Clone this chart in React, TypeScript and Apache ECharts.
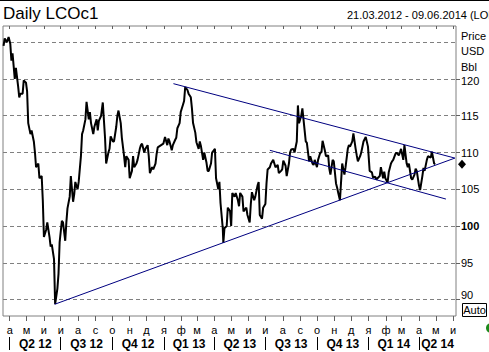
import React, { useEffect, useRef } from 'react';
import * as echarts from 'echarts';

const FONT = 'Arial, "Liberation Sans", Helvetica, sans-serif';

const AXIS_START = '2012-03-20';
const AXIS_END = '2014-06-06';

const MONTH_TICKS = [
  '2012-04-01', '2012-05-01', '2012-06-01', '2012-07-01', '2012-08-01', '2012-09-01',
  '2012-10-01', '2012-11-01', '2012-12-01', '2013-01-01', '2013-02-01', '2013-03-01',
  '2013-04-01', '2013-05-01', '2013-06-01', '2013-07-01', '2013-08-01', '2013-09-01',
  '2013-10-01', '2013-11-01', '2013-12-01', '2014-01-01', '2014-02-01', '2014-03-01',
  '2014-04-01', '2014-05-01', '2014-06-01',
];
const MONTH_LABELS = [
  'а', 'м', 'и', 'и', 'а', 'с', 'о', 'н', 'д', 'я', 'ф', 'м',
  'а', 'м', 'и', 'и', 'а', 'с', 'о', 'н', 'д', 'я', 'ф', 'м',
  'а', 'м', 'и',
];
const QUARTER_STARTS = [
  '2012-04-01', '2012-07-01', '2012-10-01', '2013-01-01', '2013-04-01',
  '2013-07-01', '2013-10-01', '2014-01-01', '2014-04-01',
];
const QUARTER_LABELS = ['Q2 12', 'Q3 12', 'Q4 12', 'Q1 13', 'Q2 13', 'Q3 13', 'Q4 13', 'Q1 14', 'Q2 14'];

const Y_MIN = 87.77;
const Y_MAX = 127.2;
const Y_TICKS = [90, 95, 100, 105, 110, 115, 120];
const Y_GRID = [90, 95, 100, 105, 110, 115, 120, 125];
const UNIT_LABELS = ['Price', 'USD', 'Bbl'];

const priceDates = [
  '2012-03-21', '2012-03-23', '2012-03-27', '2012-03-30', '2012-04-02', '2012-04-04', '2012-04-06',
  '2012-04-10', '2012-04-12', '2012-04-16', '2012-04-18', '2012-04-20', '2012-04-24', '2012-04-26',
  '2012-04-30', '2012-05-02', '2012-05-04', '2012-05-08', '2012-05-10', '2012-05-14', '2012-05-16',
  '2012-05-18', '2012-05-22', '2012-05-24', '2012-05-28', '2012-05-30', '2012-06-01', '2012-06-05',
  '2012-06-07', '2012-06-11', '2012-06-13', '2012-06-15', '2012-06-19', '2012-06-21', '2012-06-25',
  '2012-06-27', '2012-06-29', '2012-07-03', '2012-07-05', '2012-07-09', '2012-07-11', '2012-07-13',
  '2012-07-17', '2012-07-19', '2012-07-23', '2012-07-25', '2012-07-27', '2012-07-31', '2012-08-02',
  '2012-08-06', '2012-08-08', '2012-08-10', '2012-08-14', '2012-08-16', '2012-08-20', '2012-08-22',
  '2012-08-24', '2012-08-28', '2012-08-30', '2012-09-03', '2012-09-05', '2012-09-07', '2012-09-11',
  '2012-09-14', '2012-09-18', '2012-09-20', '2012-09-24', '2012-09-26', '2012-09-28', '2012-10-02',
  '2012-10-04', '2012-10-08', '2012-10-10', '2012-10-12', '2012-10-16', '2012-10-18', '2012-10-22',
  '2012-10-24', '2012-10-26', '2012-10-30', '2012-11-01', '2012-11-05', '2012-11-07', '2012-11-09',
  '2012-11-13', '2012-11-15', '2012-11-19', '2012-11-21', '2012-11-23', '2012-11-27', '2012-11-29',
  '2012-12-03', '2012-12-05', '2012-12-07', '2012-12-11', '2012-12-13', '2012-12-17', '2012-12-19',
  '2012-12-21', '2012-12-27', '2012-12-31', '2013-01-03', '2013-01-07', '2013-01-09', '2013-01-11',
  '2013-01-15', '2013-01-17', '2013-01-21', '2013-01-23', '2013-01-25', '2013-01-29', '2013-01-31',
  '2013-02-04', '2013-02-06', '2013-02-08', '2013-02-12', '2013-02-14', '2013-02-18', '2013-02-20',
  '2013-02-22', '2013-02-26', '2013-02-28', '2013-03-04', '2013-03-06', '2013-03-08', '2013-03-12',
  '2013-03-14', '2013-03-18', '2013-03-20', '2013-03-22', '2013-03-26', '2013-03-28', '2013-04-02',
  '2013-04-04', '2013-04-08', '2013-04-10', '2013-04-12', '2013-04-16', '2013-04-17', '2013-04-19',
  '2013-04-23', '2013-04-25', '2013-04-29', '2013-05-01', '2013-05-03', '2013-05-07', '2013-05-09',
  '2013-05-13', '2013-05-15', '2013-05-17', '2013-05-21', '2013-05-23', '2013-05-28', '2013-05-30',
  '2013-06-03', '2013-06-05', '2013-06-07', '2013-06-11', '2013-06-13', '2013-06-17', '2013-06-19',
  '2013-06-21', '2013-06-25', '2013-06-27', '2013-07-01', '2013-07-03', '2013-07-05', '2013-07-09',
  '2013-07-11', '2013-07-15', '2013-07-17', '2013-07-19', '2013-07-23', '2013-07-25', '2013-07-29',
  '2013-07-31', '2013-08-02', '2013-08-06', '2013-08-08', '2013-08-12', '2013-08-14', '2013-08-16',
  '2013-08-20', '2013-08-22', '2013-08-26', '2013-08-28', '2013-08-30', '2013-09-03', '2013-09-05',
  '2013-09-09', '2013-09-11', '2013-09-13', '2013-09-17', '2013-09-19', '2013-09-23', '2013-09-25',
  '2013-09-27', '2013-10-01', '2013-10-03', '2013-10-07', '2013-10-09', '2013-10-11', '2013-10-15',
  '2013-10-17', '2013-10-21', '2013-10-23', '2013-10-25', '2013-10-29', '2013-10-31', '2013-11-04',
  '2013-11-06', '2013-11-08', '2013-11-11', '2013-11-13', '2013-11-15', '2013-11-19', '2013-11-21',
  '2013-11-25', '2013-11-27', '2013-11-29', '2013-12-03', '2013-12-05', '2013-12-09', '2013-12-11',
  '2013-12-13', '2013-12-17', '2013-12-19', '2013-12-23', '2013-12-27', '2013-12-31', '2014-01-03',
  '2014-01-07', '2014-01-09', '2014-01-13', '2014-01-15', '2014-01-17', '2014-01-21', '2014-01-23',
  '2014-01-27', '2014-01-29', '2014-01-31', '2014-02-04', '2014-02-06', '2014-02-10', '2014-02-12',
  '2014-02-14', '2014-02-18', '2014-02-20', '2014-02-24', '2014-02-26', '2014-02-28', '2014-03-04',
  '2014-03-06', '2014-03-10', '2014-03-12', '2014-03-14', '2014-03-18', '2014-03-20', '2014-03-24',
  '2014-03-26', '2014-03-28', '2014-04-01', '2014-04-03', '2014-04-07', '2014-04-09', '2014-04-11',
  '2014-04-15', '2014-04-17', '2014-04-22', '2014-04-24', '2014-04-28', '2014-04-30',
];
const priceValues = [
  124.5, 125.5, 125.0, 125.7, 124.8, 122.5, 123.5,
  120.0, 121.5, 119.0, 117.5, 118.0, 118.0, 119.8,
  119.5, 118.3, 114.0, 112.5, 113.0, 111.5, 110.0,
  108.0, 108.5, 106.5, 106.8, 103.5, 98.5, 99.5,
  100.5, 98.5, 97.2, 97.5, 95.5, 89.4, 91.5,
  93.5, 97.8, 100.7, 100.5, 98.0, 100.5, 102.4,
  104.0, 106.8, 103.3, 104.3, 106.0, 105.0, 106.0,
  109.5, 112.5, 113.0, 114.5, 116.9, 114.5, 115.5,
  114.0, 112.5, 113.5, 114.5, 113.0, 114.3, 115.0,
  116.8, 112.0, 108.5, 110.0, 110.5, 112.2, 111.5,
  111.5, 113.5, 115.0, 115.7, 114.0, 112.0, 109.5,
  108.0, 109.5, 109.0, 106.5, 107.5, 109.5, 108.0,
  108.5, 109.0, 110.5, 111.0, 111.2, 110.0, 110.5,
  111.0, 109.5, 107.2, 108.0, 107.7, 108.5, 109.8,
  110.7, 111.0, 111.2, 112.1, 111.0, 111.9, 111.5,
  110.3, 111.0, 111.7, 112.0, 113.3, 114.0, 115.5,
  116.5, 117.0, 118.9, 118.5, 118.0, 117.5, 116.0,
  114.0, 112.7, 111.4, 110.5, 111.5, 110.9, 109.0,
  110.0, 108.6, 107.5, 107.5, 108.5, 110.0, 110.5,
  106.5, 105.0, 106.0, 103.1, 99.7, 97.7, 99.7,
  100.0, 102.5, 102.0, 100.0, 104.5, 104.0, 104.5,
  103.5, 102.7, 104.5, 104.0, 102.0, 102.5, 101.5,
  100.5, 103.0, 104.6, 103.5, 104.0, 105.5, 106.0,
  101.5, 101.0, 102.5, 103.0, 105.8, 107.7, 108.0,
  108.5, 109.0, 108.5, 108.0, 108.3, 107.2, 107.5,
  107.7, 108.9, 108.2, 106.8, 108.5, 110.0, 110.4,
  110.5, 110.0, 111.5, 116.4, 114.0, 115.0, 116.0,
  113.0, 111.5, 111.3, 108.8, 109.5, 108.5, 108.3,
  109.0, 108.0, 109.0, 110.0, 110.0, 111.6, 110.3,
  109.5, 109.6, 107.8, 107.0, 109.0, 108.8, 105.8,
  105.2, 104.5, 103.5, 106.0, 108.5, 107.0, 108.0,
  110.5, 111.0, 110.8, 111.5, 112.6, 110.5, 109.6,
  108.8, 109.5, 110.0, 111.5, 112.1, 110.8, 107.5,
  107.3, 106.6, 106.7, 106.3, 106.5, 106.8, 108.0,
  106.5, 107.4, 106.5, 105.9, 107.3, 108.5, 108.8,
  109.0, 109.8, 110.0, 109.6, 110.0, 110.5, 109.0,
  111.0, 108.5, 108.0, 108.5, 106.5, 106.3, 107.0,
  107.8, 107.5, 105.5, 104.9, 106.8, 107.9, 107.5,
  109.0, 109.5, 109.3, 110.1, 108.5, 108.4,
];

const trendUpper: [string, number][] = [['2013-01-18', 119.36], ['2014-06-04', 109.24]];
const trendLower: [string, number][] = [['2012-06-20', 89.36], ['2014-06-04', 109.24]];
const trendChannel: [string, number][] = [['2013-07-09', 110.3], ['2014-05-19', 103.67]];

const ts = (s: string) => {
  const [y, m, d] = s.split('-').map(Number);
  return Date.UTC(y, m - 1, d);
};

export default function App() {
  const ref = useRef<HTMLDivElement>(null);

  useEffect(() => {
    if (!ref.current) return;
    const chart = echarts.init(ref.current, null, { renderer: 'svg' });

    const xMin = ts(AXIS_START);
    const xMax = ts(AXIS_END);
    const monthTs = MONTH_TICKS.map(ts);
    const quarterTs = QUARTER_STARTS.map(ts);
    const quarterMid = quarterTs.map((a, i) => {
      const b = i + 1 < quarterTs.length ? quarterTs[i + 1] : xMax;
      return (a + b) / 2;
    });
    const findIdx = (arr: number[], v: number) => {
      let best = -1;
      let bd = Infinity;
      arr.forEach((t, i) => {
        const d = Math.abs(t - v);
        if (d < bd) { bd = d; best = i; }
      });
      return bd < 86400000 ? best : -1;
    };
    const priceData = priceDates.map((d, i) => [ts(d), priceValues[i]]);
    const lastValue = priceValues[priceValues.length - 1];
    const toLine = (arr: [string, number][]) => arr.map(([d, v]) => [ts(d), v]);

    const trendSeries = (data: number[][]) => ({
      type: 'line',
      xAxisIndex: 0,
      yAxisIndex: 0,
      data,
      showSymbol: false,
      symbol: 'none',
      lineStyle: { color: '#000080', width: 1 },
      z: 5,
      silent: true,
    });

    const xBase = {
      type: 'value',
      min: xMin,
      max: xMax,
      scale: true,
      axisLine: { show: false },
      splitLine: { show: false },
    };

    const option: any = {
      animation: false,
      backgroundColor: '#ffffff',
      textStyle: { fontFamily: FONT },
      grid: {
        left: 3,
        right: 33,
        top: 26,
        bottom: 36,
        show: true,
        borderColor: '#808080',
        borderWidth: 1,
        containLabel: false,
        outerBoundsMode: 'none',
      },
      xAxis: [
        {
          ...xBase,
          position: 'bottom',
          axisTick: { show: true, customValues: monthTs, length: 5, lineStyle: { color: '#606060' } },
          axisLabel: {
            customValues: monthTs,
            margin: 8,
            fontSize: 11,
            color: '#000',
            fontFamily: FONT,
            formatter: (v: number) => {
              const i = findIdx(monthTs, v);
              return i >= 0 ? MONTH_LABELS[i] : '';
            },
          },
        },
        {
          ...xBase,
          position: 'top',
          axisTick: { show: true, inside: true, customValues: monthTs, length: 3, lineStyle: { color: '#606060' } },
          axisLabel: { show: false },
        },
        {
          ...xBase,
          position: 'bottom',
          offset: 21,
          axisTick: { show: true, customValues: quarterTs, length: 13, lineStyle: { color: '#000', width: 1 } },
          axisLabel: {
            customValues: quarterMid,
            margin: 1,
            fontSize: 12,
            fontWeight: 'bold',
            color: '#000',
            fontFamily: FONT,
            formatter: (v: number) => {
              const i = findIdx(quarterMid, v);
              return i >= 0 ? QUARTER_LABELS[i] : '';
            },
          },
        },
      ],
      yAxis: [
        {
          type: 'value',
          position: 'right',
          min: Y_MIN,
          max: Y_MAX,
          axisLine: { show: false },
          axisTick: { show: true, customValues: Y_TICKS, length: 4, lineStyle: { color: '#606060' } },
          axisLabel: {
            customValues: Y_TICKS,
            margin: 5,
            fontSize: 11,
            color: '#000',
            fontFamily: FONT,
            formatter: (v: number) => {
              const r = Math.round(v);
              if (r === 100) return '{b|100}';
              if (r === 90) return '{up|90}';
              if (r === 120) return '{dn|120}';
              return String(r);
            },
            rich: {
              b: { fontWeight: 'bold', fontSize: 11, color: '#000', fontFamily: FONT },
              up: { fontSize: 11, color: '#000', fontFamily: FONT, padding: [0, 0, 10, 0] },
              dn: { fontSize: 11, color: '#000', fontFamily: FONT, padding: [4, 0, 0, 0] },
            },
          },
          splitLine: { show: false },
        },
        {
          type: 'value',
          position: 'left',
          min: Y_MIN,
          max: Y_MAX,
          axisLine: { show: false },
          axisTick: { show: false, customValues: Y_GRID },
          axisLabel: { show: false },
          splitLine: { show: true, lineStyle: { color: '#808080', type: [4, 3], width: 1 } },
        },
      ],
      series: [
        {
          type: 'line',
          xAxisIndex: 0,
          yAxisIndex: 0,
          data: priceData,
          showSymbol: false,
          symbol: 'none',
          lineStyle: { color: '#000000', width: 2 },
          z: 3,
          silent: true,
          markPoint: {
            silent: true,
            symbol: 'diamond',
            symbolSize: [8, 9],
            symbolOffset: [6, 0],
            itemStyle: { color: '#000' },
            label: { show: false },
            data: [{ coord: [xMax, lastValue] }],
          },
        },
        trendSeries(toLine(trendUpper)),
        trendSeries(toLine(trendLower)),
        trendSeries(toLine(trendChannel)),
      ],
      graphic: [
        { type: 'rect', shape: { x: 0, y: 0, width: 489, height: 1 }, style: { fill: '#000' }, silent: true },
        {
          type: 'text', x: 3, y: 13,
          style: { text: 'Daily LCOc1', fontSize: 17, fontFamily: FONT, fill: '#000', verticalAlign: 'middle', align: 'left' },
          silent: true,
        },
        {
          type: 'text', x: 347, y: 15,
          style: { text: '21.03.2012 - 09.06.2014 (LON)', fontSize: 11, fontFamily: FONT, fill: '#000', verticalAlign: 'middle', align: 'left' },
          silent: true,
        },
        ...UNIT_LABELS.map((t, i) => ({
          type: 'text', x: 461, y: 35.5 + i * 15.5,
          style: { text: t, fontSize: 11, fontFamily: FONT, fill: '#000', verticalAlign: 'middle', align: 'left' },
          silent: true,
        })),
        {
          type: 'rect', shape: { x: 462.5, y: 303.5, width: 24, height: 13 },
          style: { fill: '#fff', stroke: '#000', lineWidth: 1 }, silent: true,
        },
        {
          type: 'text', x: 474.5, y: 310,
          style: { text: 'Auto', fontSize: 11, fontFamily: FONT, fill: '#000', verticalAlign: 'middle', align: 'center' },
          silent: true,
        },
        {
          type: 'circle', shape: { cx: 491, cy: 328, r: 5 },
          style: { fill: '#1a8a1a' }, silent: true,
        },
      ],
    };

    chart.setOption(option);
    return () => chart.dispose();
  }, []);

  return (
    <div
      ref={ref}
      style={{ position: 'fixed', left: 0, top: 0, width: 489, height: 352, background: '#fff' }}
    />
  );
}
